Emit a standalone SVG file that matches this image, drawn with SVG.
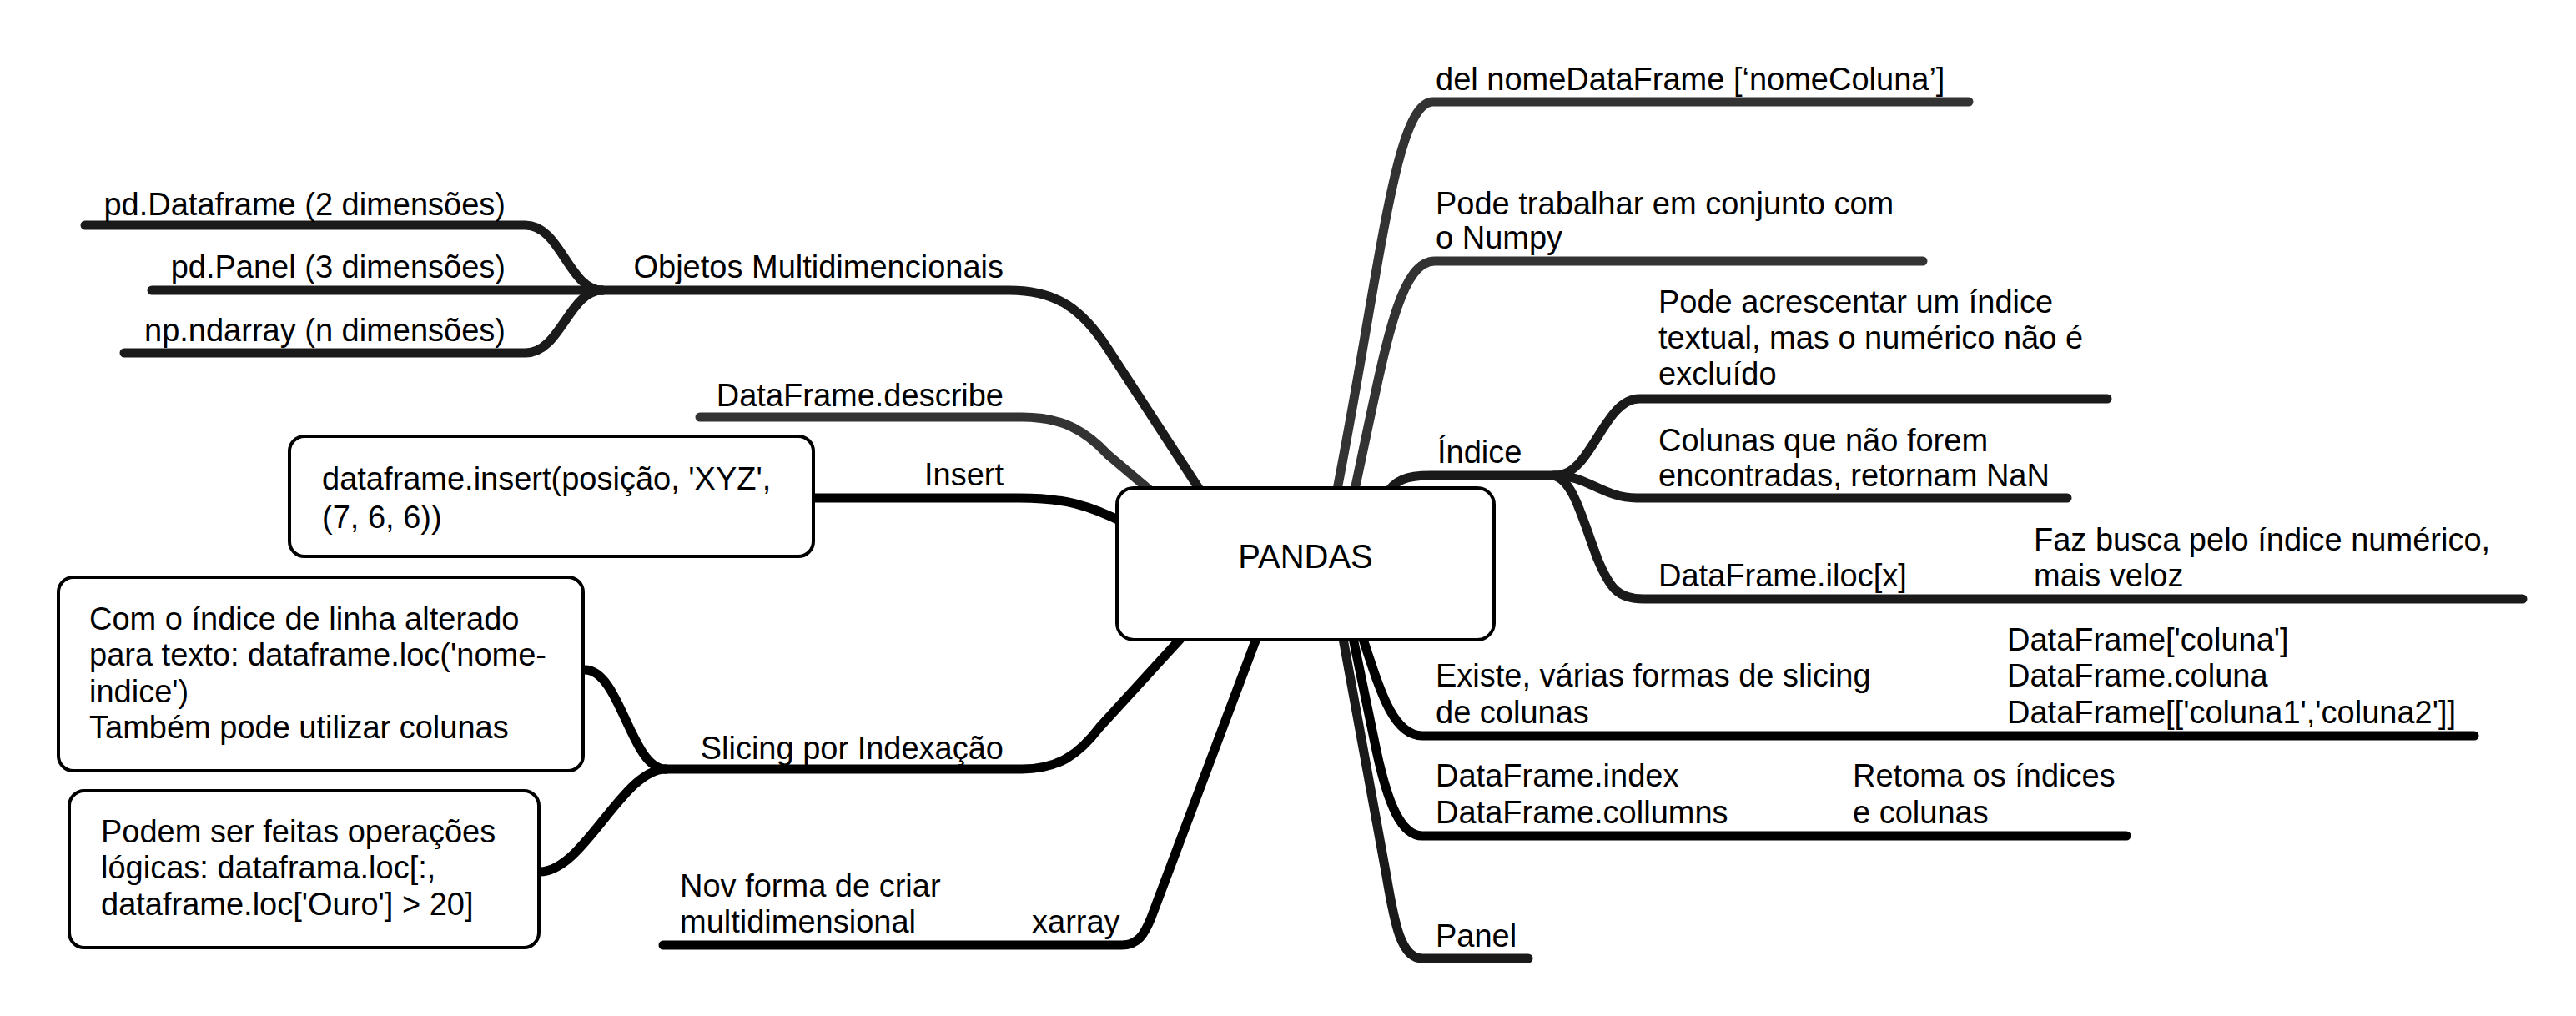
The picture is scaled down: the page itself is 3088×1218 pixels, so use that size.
<svg xmlns="http://www.w3.org/2000/svg" width="3088" height="1218" viewBox="0 0 3088 1218">
<style>
text{font-family:"Liberation Sans",Arial,sans-serif;font-size:38px;fill:#000}
.e{text-anchor:end}
.c{fill:none;stroke-width:11;stroke-linecap:round;stroke-linejoin:round}
.k{stroke:#000}.d{stroke:#1a1a1a}.g{stroke:#333}
.box{fill:#fff;stroke:#000;stroke-width:4}
</style>
<rect width="3088" height="1218" fill="#fff"/>
<g id="connectors">
<path class="c d" d="M722,348 H1210 C1268,348 1298,372 1328,418 L1440,590"/>
<path class="c d" d="M102,270 H630 C672,270 682,348 722,348"/>
<path class="c d" d="M182,348 H722"/>
<path class="c d" d="M149,423 H630 C672,423 682,348 722,348"/>
<path class="c g" d="M839,500 H1225 C1272,500 1300,515 1328,545 L1393,600"/>
<path class="c k" d="M975,597 H1222 C1275,597 1305,605 1350,628"/>
<path class="c k" d="M798,922 H1225 C1268,922 1293,905 1318,872 L1425,755"/>
<path class="c k" d="M701,803 C744,803 756,922 798,922"/>
<path class="c k" d="M647,1045 C700,1045 746,922 798,922"/>
<path class="c k" d="M795,1133 H1345 C1364,1133 1372,1120 1380,1100 L1510,755"/>
<path class="c g" d="M1602,592 C1655,320 1672,122 1718,122 H2360"/>
<path class="c g" d="M1623,592 C1660,420 1676,313 1720,313 H2305"/>
<path class="c d" d="M1660,595 C1672,575 1686,570 1715,570 H1865"/>
<path class="c d" d="M1865,570 C1908,570 1922,478 1965,478 H2526"/>
<path class="c d" d="M1865,570 C1902,570 1922,597 1962,597 H2478"/>
<path class="c d" d="M1862,570 C1886,575 1896,620 1915,670 C1930,706 1940,718 1970,718 H3024"/>
<path class="c k" d="M1632,760 C1655,830 1670,882 1705,882 H2966"/>
<path class="c k" d="M1621,760 L1650,900 C1664,965 1680,1002 1705,1002 H2549"/>
<path class="c d" d="M1609,760 L1662,1050 C1672,1110 1680,1149 1705,1149 H1832"/>
</g>
<g id="pandas">
<rect class="box" x="1339" y="585" width="452" height="182" rx="20"/>
<text x="1565" y="681" text-anchor="middle" style="font-size:40px">PANDAS</text>
</g>
<g id="objetos"><text class="e" x="1203" y="333">Objetos Multidimencionais</text></g>
<g id="pd-dataframe"><text class="e" x="606" y="258">pd.Dataframe (2 dimensões)</text></g>
<g id="pd-panel"><text class="e" x="606" y="333">pd.Panel (3 dimensões)</text></g>
<g id="np-ndarray"><text class="e" x="606" y="409">np.ndarray (n dimensões)</text></g>
<g id="describe"><text class="e" x="1203" y="487">DataFrame.describe</text></g>
<g id="insert"><text class="e" x="1203" y="582">Insert</text></g>
<g id="insert-box">
<rect class="box" x="347" y="523" width="628" height="144" rx="18"/>
<text x="386" y="587">dataframe.insert(posição, 'XYZ',</text>
<text x="386" y="633">(7, 6, 6))</text>
</g>
<g id="slicing"><text class="e" x="1203" y="910">Slicing por Indexação</text></g>
<g id="loc-box">
<rect class="box" x="70" y="692" width="629" height="232" rx="18"/>
<text x="107" y="755">Com o índice de linha alterado</text>
<text x="107" y="798">para texto: dataframe.loc('nome-</text>
<text x="107" y="842">indice')</text>
<text x="107" y="885">Também pode utilizar colunas</text>
</g>
<g id="logic-box">
<rect class="box" x="83" y="948" width="563" height="188" rx="18"/>
<text x="121" y="1010">Podem ser feitas operações</text>
<text x="121" y="1053">lógicas: dataframa.loc[:,</text>
<text x="121" y="1097">dataframe.loc['Ouro'] &gt; 20]</text>
</g>
<g id="xarray">
<text x="1237" y="1118">xarray</text>
</g>
<g id="nov-forma">
<text x="815" y="1075">Nov forma de criar</text>
<text x="815" y="1118">multidimensional</text>
</g>
<g id="del"><text x="1721" y="108">del nomeDataFrame [‘nomeColuna’]</text></g>
<g id="numpy">
<text x="1721" y="257">Pode trabalhar em conjunto com</text>
<text x="1721" y="298">o Numpy</text>
</g>
<g id="indice"><text x="1723" y="555">Índice</text></g>
<g id="acrescentar">
<text x="1988" y="375">Pode acrescentar um índice</text>
<text x="1988" y="418">textual, mas o numérico não é</text>
<text x="1988" y="461">excluído</text>
</g>
<g id="nan">
<text x="1988" y="541">Colunas que não forem</text>
<text x="1988" y="583">encontradas, retornam NaN</text>
</g>
<g id="iloc"><text x="1988" y="703">DataFrame.iloc[x]</text></g>
<g id="busca">
<text x="2438" y="660">Faz busca pelo índice numérico,</text>
<text x="2438" y="703">mais veloz</text>
</g>
<g id="existe">
<text x="1721" y="823">Existe, várias formas de slicing</text>
<text x="1721" y="867">de colunas</text>
</g>
<g id="formas">
<text x="2406" y="780">DataFrame['coluna']</text>
<text x="2406" y="823">DataFrame.coluna</text>
<text x="2406" y="867">DataFrame[['coluna1','coluna2']]</text>
</g>
<g id="index">
<text x="1721" y="943">DataFrame.index</text>
<text x="1721" y="987">DataFrame.collumns</text>
</g>
<g id="retoma">
<text x="2221" y="943">Retoma os índices</text>
<text x="2221" y="987">e colunas</text>
</g>
<g id="panel"><text x="1721" y="1135">Panel</text></g>
</svg>
